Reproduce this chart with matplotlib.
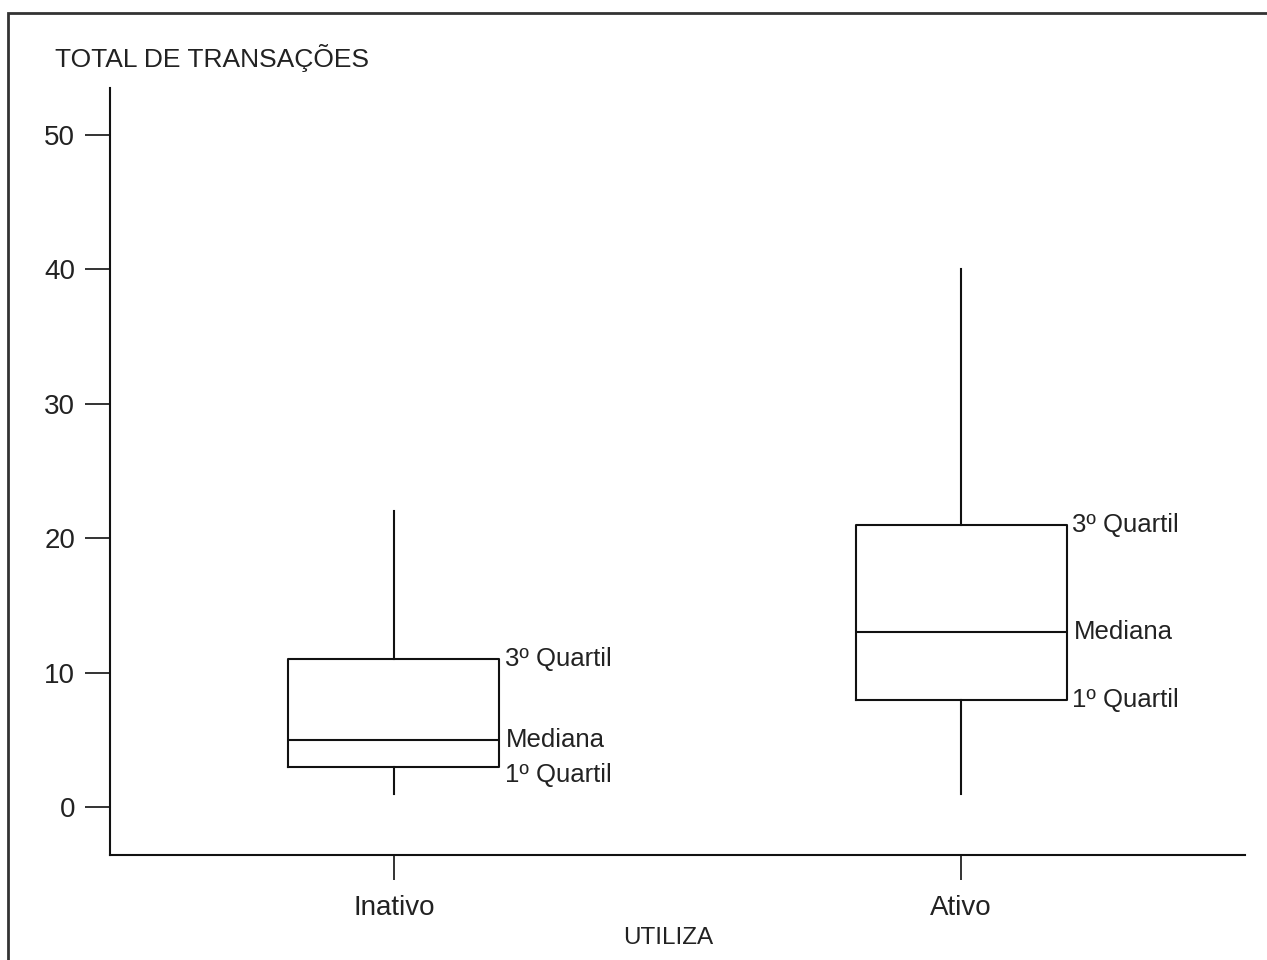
import matplotlib
matplotlib.use("Agg")
import matplotlib.pyplot as plt
from matplotlib.patches import Rectangle

# dados
categorias = ["Inativo", "Ativo"]
minimos = [1, 1]
q1 = [3, 8]
medianas = [5, 13]
q3 = [11, 21]
maximos = [22, 40]
yticks = [0, 10, 20, 30, 40, 50]

plt.rcParams["font.family"] = ["Liberation Sans", "DejaVu Sans"]

fig = plt.figure(figsize=(12.67, 9.6), dpi=100)
ax = fig.add_axes([110 / 1267, 1 - 855 / 960, (1245 - 110) / 1267, (855 - 88) / 960])

stats = []
for i in range(len(categorias)):
    stats.append({"med": medianas[i], "q1": q1[i], "q3": q3[i],
                  "whislo": minimos[i], "whishi": maximos[i], "fliers": []})

posicoes = list(range(len(categorias)))
largura = 0.371
linha = dict(color="#111111", linewidth=1.5)
ax.bxp(stats, positions=posicoes, widths=largura, showcaps=False, showfliers=False,
       boxprops=linha, whiskerprops=linha, medianprops=linha)

# rótulos ao lado das caixas
for i, p in enumerate(posicoes):
    x = p + largura / 2
    ax.annotate("3º Quartil", (x, q3[i]), xytext=(4, 0), textcoords="offset points",
                va="center", ha="left", fontsize=18.5, color="#222222")
    ax.annotate("Mediana", (x, medianas[i]), xytext=(5, 0), textcoords="offset points",
                va="center", ha="left", fontsize=18.5, color="#222222")
    dy = -6 if q1[i] - minimos[i] < 4 else 0
    ax.annotate("1º Quartil", (x, q1[i]), xytext=(4, dy), textcoords="offset points",
                va="center", ha="left", fontsize=18.5, color="#222222")

ax.set_xlim(-0.5, 1.5)
ax.set_ylim(-3.57, 53.5)
ax.set_xticks(posicoes)
ax.set_xticklabels(categorias)
ax.set_yticks(yticks)

for s in ["top", "right"]:
    ax.spines[s].set_visible(False)
for s in ["left", "bottom"]:
    ax.spines[s].set_linewidth(1.5)
    ax.spines[s].set_color("#111111")

ax.tick_params(axis="both", length=18, width=1.2, color="#111111", labelsize=20,
               labelcolor="#222222", pad=7)
ax.tick_params(axis="x", pad=11)

# títulos dos eixos
fig.text(55 / 1267, 1 - 58 / 960, "TOTAL DE TRANSAÇÕES", fontsize=19, color="#222222",
         ha="left", va="center")
fig.text(668 / 1267, 1 - 938 / 960, "UTILIZA", fontsize=17.5, color="#222222",
         ha="center", va="center")

# moldura da imagem
fig.patches.append(Rectangle((8 / 1267, -0.1), 1.2, 1 - 13 / 960 + 0.1,
                             transform=fig.transFigure, fill=False,
                             edgecolor="#333333", linewidth=2))

fig.savefig("out.png", dpi=100)
